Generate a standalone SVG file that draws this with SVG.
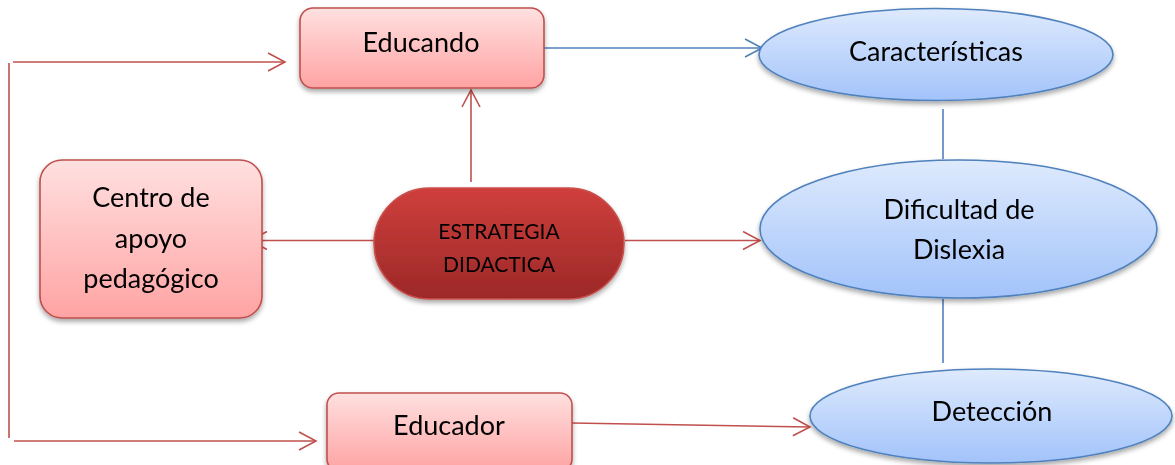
<svg xmlns="http://www.w3.org/2000/svg" width="1175" height="465" viewBox="0 0 1175 465">
<defs>
<linearGradient id="gPink" x1="0" y1="0" x2="0" y2="1">
<stop offset="0" stop-color="#FFE0E0"/><stop offset="1" stop-color="#FFA3A3"/>
</linearGradient>
<linearGradient id="gBlue" x1="0" y1="0" x2="0" y2="1">
<stop offset="0" stop-color="#DEEAFD"/><stop offset="1" stop-color="#A2C3FA"/>
</linearGradient>
<linearGradient id="gRed" x1="0" y1="0" x2="0" y2="1">
<stop offset="0" stop-color="#CF3F3C"/><stop offset="1" stop-color="#9C2828"/>
</linearGradient>
<filter id="sh" x="-10%" y="-10%" width="120%" height="130%">
<feGaussianBlur in="SourceAlpha" stdDeviation="2.5"/>
<feOffset dx="0" dy="3" result="b"/>
<feComponentTransfer><feFuncA type="linear" slope="0.35"/></feComponentTransfer>
<feMerge><feMergeNode/><feMergeNode in="SourceGraphic"/></feMerge>
</filter>
<marker id="aRed" viewBox="0 0 20 20" refX="18" refY="10" markerWidth="20" markerHeight="20" markerUnits="userSpaceOnUse" orient="auto">
<path d="M1,1 L18,10 L1,19" fill="none" stroke="#C0504D" stroke-width="1.6"/>
</marker>
<marker id="aBlue" viewBox="0 0 20 20" refX="18" refY="10" markerWidth="20" markerHeight="20" markerUnits="userSpaceOnUse" orient="auto">
<path d="M1,1 L18,10 L1,19" fill="none" stroke="#4F81BD" stroke-width="1.6"/>
</marker>
</defs>
<style>
.pink{fill:url(#gPink);stroke:#C0504D;stroke-width:1.6}
.blue{fill:url(#gBlue);stroke:#4F81BD;stroke-width:1.6}
.red{fill:url(#gRed);stroke:#C9504C;stroke-width:1.6}
.t{font-family:Lato,"Open Sans","Liberation Sans",sans-serif;fill:#000;text-anchor:middle;font-size:27px}
.ts{font-family:Lato,"Open Sans","Liberation Sans",sans-serif;fill:#000;text-anchor:middle;font-size:21px}
.cr{fill:none;stroke:#C0504D;stroke-width:1.6}
.cb{fill:none;stroke:#4F81BD;stroke-width:1.6}
</style>
<g id="connectors">
<line class="cr" x1="9" y1="63" x2="9" y2="438"/>
<line class="cr" x1="13" y1="62" x2="285" y2="62" marker-end="url(#aRed)"/>
<line class="cr" x1="14" y1="441" x2="316" y2="441" marker-end="url(#aRed)"/>
<line class="cr" x1="471" y1="182" x2="471" y2="90" marker-end="url(#aRed)"/>
<line class="cr" x1="374" y1="240.5" x2="250" y2="240.5" marker-end="url(#aRed)"/>
<line class="cr" x1="625" y1="240.5" x2="760" y2="240.5" marker-end="url(#aRed)"/>
<line class="cr" x1="572" y1="423" x2="810" y2="427" marker-end="url(#aRed)"/>
<line class="cb" x1="544" y1="48" x2="762" y2="48" marker-end="url(#aBlue)"/>
<line class="cb" x1="943" y1="109" x2="943" y2="159"/>
<line class="cb" x1="943" y1="299" x2="943" y2="363"/>
</g>
<g id="educando" filter="url(#sh)">
<rect class="pink" x="300" y="8" width="244" height="80" rx="13"/>
<text class="t" x="421" y="52">Educando</text>
</g>
<g id="centro" filter="url(#sh)">
<rect class="pink" x="40" y="160" width="222" height="158" rx="22"/>
<text class="t" x="151" y="207">Centro de</text>
<text class="t" x="151" y="248">apoyo</text>
<text class="t" x="151" y="288">pedagógico</text>
</g>
<g id="estrategia" filter="url(#sh)">
<rect class="red" x="374" y="188" width="250" height="111" rx="55.5"/>
<text class="ts" x="499" y="239">ESTRATEGIA</text>
<text class="ts" x="499" y="272">DIDACTICA</text>
</g>
<g id="educador" filter="url(#sh)">
<rect class="pink" x="327" y="393" width="245" height="78" rx="12"/>
<text class="t" x="449" y="435">Educador</text>
</g>
<g id="caracteristicas" filter="url(#sh)">
<ellipse class="blue" cx="936" cy="54.5" rx="177" ry="46"/>
<text class="t" x="936" y="61">Características</text>
</g>
<g id="dificultad" filter="url(#sh)">
<ellipse class="blue" cx="958.5" cy="229" rx="198.5" ry="69"/>
<text class="t" x="959" y="219">Dificultad de</text>
<text class="t" x="959" y="259">Dislexia</text>
</g>
<g id="deteccion" filter="url(#sh)">
<ellipse class="blue" cx="991" cy="416" rx="181" ry="47"/>
<text class="t" x="992" y="421">Detección</text>
</g>
</svg>
